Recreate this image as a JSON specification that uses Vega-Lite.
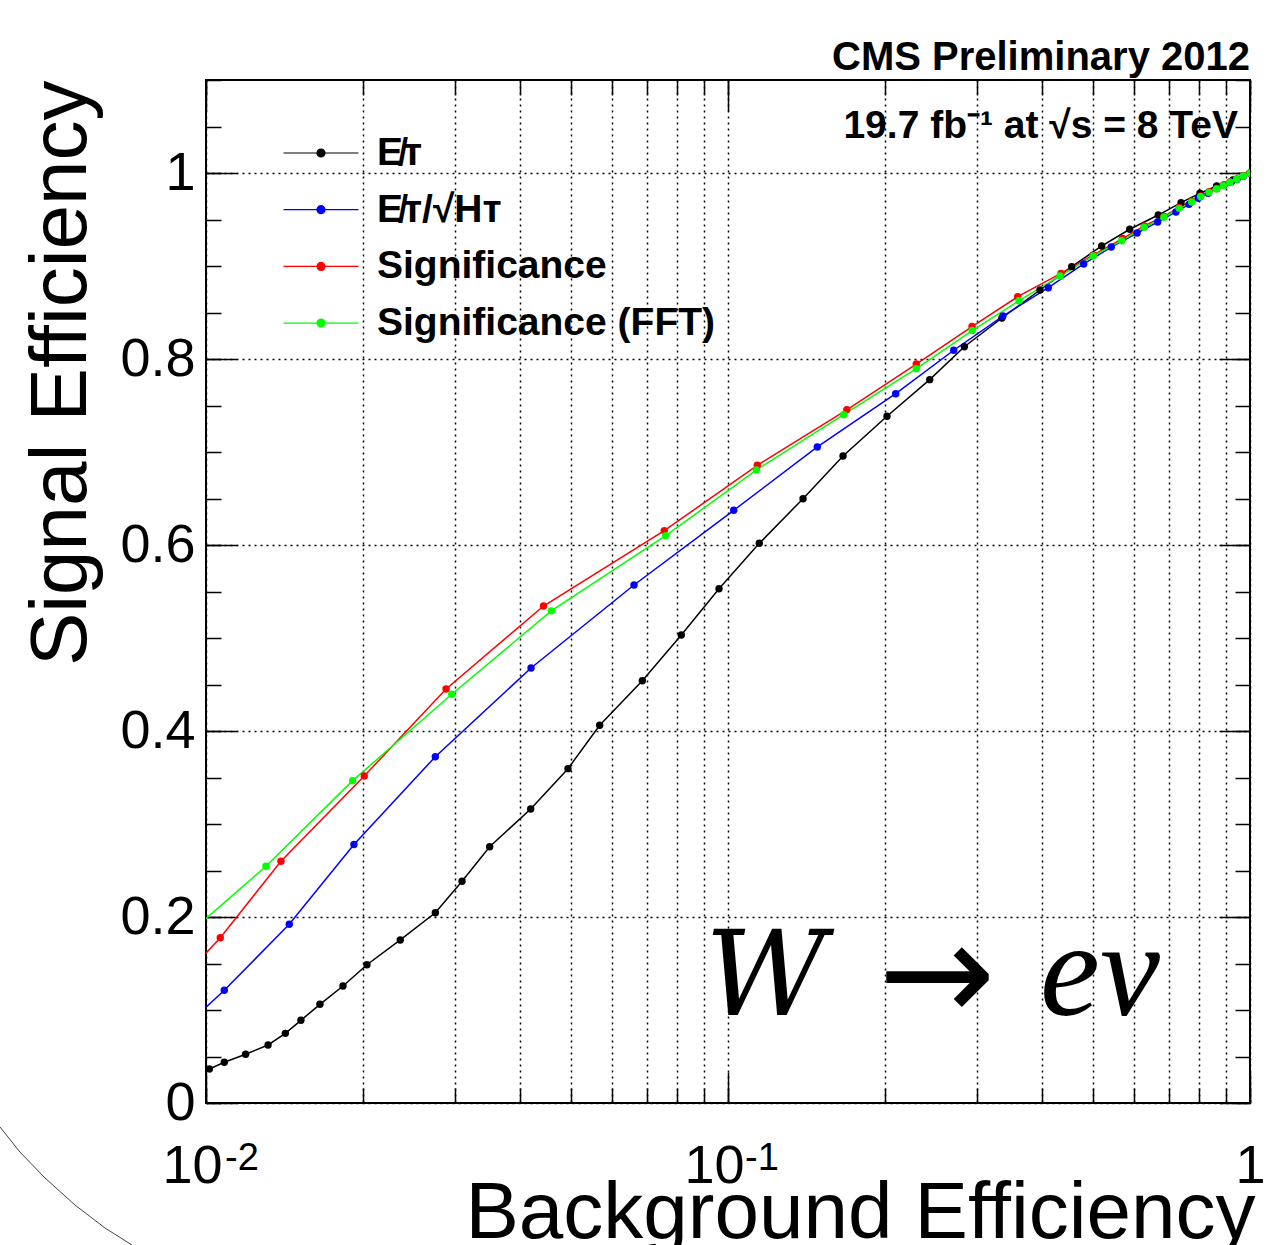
{
  "$schema": "https://vega.github.io/schema/vega-lite/v6.json",
  "width": 1044,
  "height": 1023,
  "autosize": "none",
  "padding": {"left": 206, "top": 80, "right": 18, "bottom": 142},
  "background": "white",
  "title": {"text": "CMS Preliminary 2012", "anchor": "end", "frame": "group", "font": "Liberation Sans", "fontWeight": "bold", "fontSize": 40, "baseline": "alphabetic", "offset": 7, "dy": 38, "color": "black"},
  "datasets": {
    "curves": [
      {"series": "MET", "bkg": 0.01015, "sig": 0.0366},
      {"series": "MET", "bkg": 0.01084, "sig": 0.0438},
      {"series": "MET", "bkg": 0.01191, "sig": 0.0524},
      {"series": "MET", "bkg": 0.01315, "sig": 0.0624},
      {"series": "MET", "bkg": 0.01419, "sig": 0.0749},
      {"series": "MET", "bkg": 0.0152, "sig": 0.0889},
      {"series": "MET", "bkg": 0.01653, "sig": 0.1061},
      {"series": "MET", "bkg": 0.0183, "sig": 0.1258},
      {"series": "MET", "bkg": 0.02034, "sig": 0.1487},
      {"series": "MET", "bkg": 0.02356, "sig": 0.1753},
      {"series": "MET", "bkg": 0.0275, "sig": 0.2046},
      {"series": "MET", "bkg": 0.03094, "sig": 0.2384},
      {"series": "MET", "bkg": 0.03495, "sig": 0.2756},
      {"series": "MET", "bkg": 0.04188, "sig": 0.3161},
      {"series": "MET", "bkg": 0.04937, "sig": 0.3595},
      {"series": "MET", "bkg": 0.05678, "sig": 0.4061},
      {"series": "MET", "bkg": 0.06853, "sig": 0.4541},
      {"series": "MET", "bkg": 0.08139, "sig": 0.5032},
      {"series": "MET", "bkg": 0.09611, "sig": 0.553},
      {"series": "MET", "bkg": 0.1148, "sig": 0.6018},
      {"series": "MET", "bkg": 0.13923, "sig": 0.6498},
      {"series": "MET", "bkg": 0.1661, "sig": 0.6957},
      {"series": "MET", "bkg": 0.20164, "sig": 0.7384},
      {"series": "MET", "bkg": 0.24345, "sig": 0.7778},
      {"series": "MET", "bkg": 0.28363, "sig": 0.8132},
      {"series": "MET", "bkg": 0.33479, "sig": 0.8441},
      {"series": "MET", "bkg": 0.39598, "sig": 0.8742},
      {"series": "MET", "bkg": 0.45543, "sig": 0.8993},
      {"series": "MET", "bkg": 0.51992, "sig": 0.9215},
      {"series": "MET", "bkg": 0.58832, "sig": 0.9395},
      {"series": "MET", "bkg": 0.66726, "sig": 0.9548},
      {"series": "MET", "bkg": 0.73773, "sig": 0.9681},
      {"series": "MET", "bkg": 0.80203, "sig": 0.9782},
      {"series": "MET", "bkg": 0.86336, "sig": 0.986},
      {"series": "MET", "bkg": 0.92773, "sig": 0.9925},
      {"series": "MET", "bkg": 1, "sig": 1},
      {"series": "METsqrtHT", "bkg": 0.008164, "sig": 0.057},
      {"series": "METsqrtHT", "bkg": 0.010841, "sig": 0.1212},
      {"series": "METsqrtHT", "bkg": 0.014437, "sig": 0.1922},
      {"series": "METsqrtHT", "bkg": 0.019206, "sig": 0.278},
      {"series": "METsqrtHT", "bkg": 0.027499, "sig": 0.3724},
      {"series": "METsqrtHT", "bkg": 0.041942, "sig": 0.4677},
      {"series": "METsqrtHT", "bkg": 0.066066, "sig": 0.557},
      {"series": "METsqrtHT", "bkg": 0.10255, "sig": 0.6373},
      {"series": "METsqrtHT", "bkg": 0.1483, "sig": 0.7054},
      {"series": "METsqrtHT", "bkg": 0.20953, "sig": 0.7627},
      {"series": "METsqrtHT", "bkg": 0.27066, "sig": 0.8094},
      {"series": "METsqrtHT", "bkg": 0.33627, "sig": 0.8462},
      {"series": "METsqrtHT", "bkg": 0.41075, "sig": 0.8767},
      {"series": "METsqrtHT", "bkg": 0.48021, "sig": 0.9022},
      {"series": "METsqrtHT", "bkg": 0.54238, "sig": 0.9204},
      {"series": "METsqrtHT", "bkg": 0.6078, "sig": 0.9355},
      {"series": "METsqrtHT", "bkg": 0.66548, "sig": 0.9473},
      {"series": "METsqrtHT", "bkg": 0.72135, "sig": 0.9581},
      {"series": "METsqrtHT", "bkg": 0.76394, "sig": 0.9663},
      {"series": "METsqrtHT", "bkg": 0.79593, "sig": 0.9728},
      {"series": "METsqrtHT", "bkg": 0.83185, "sig": 0.9782},
      {"series": "METsqrtHT", "bkg": 0.86336, "sig": 0.9835},
      {"series": "METsqrtHT", "bkg": 0.89171, "sig": 0.9871},
      {"series": "METsqrtHT", "bkg": 0.91967, "sig": 0.9903},
      {"series": "METsqrtHT", "bkg": 0.94432, "sig": 0.993},
      {"series": "METsqrtHT", "bkg": 0.97174, "sig": 0.9965},
      {"series": "METsqrtHT", "bkg": 1, "sig": 1},
      {"series": "Sig", "bkg": 0.008345, "sig": 0.114},
      {"series": "Sig", "bkg": 0.010651, "sig": 0.1777},
      {"series": "Sig", "bkg": 0.013918, "sig": 0.2599},
      {"series": "Sig", "bkg": 0.020099, "sig": 0.3516},
      {"series": "Sig", "bkg": 0.028833, "sig": 0.4452},
      {"series": "Sig", "bkg": 0.044318, "sig": 0.5344},
      {"series": "Sig", "bkg": 0.075502, "sig": 0.6154},
      {"series": "Sig", "bkg": 0.11379, "sig": 0.6857},
      {"series": "Sig", "bkg": 0.16891, "sig": 0.7454},
      {"series": "Sig", "bkg": 0.22944, "sig": 0.7946},
      {"series": "Sig", "bkg": 0.29342, "sig": 0.8349},
      {"series": "Sig", "bkg": 0.35891, "sig": 0.867},
      {"series": "Sig", "bkg": 0.43441, "sig": 0.8921},
      {"series": "Sig", "bkg": 0.50097, "sig": 0.912},
      {"series": "Sig", "bkg": 0.56984, "sig": 0.9295},
      {"series": "Sig", "bkg": 0.62714, "sig": 0.943},
      {"series": "Sig", "bkg": 0.68424, "sig": 0.9534},
      {"series": "Sig", "bkg": 0.73193, "sig": 0.9629},
      {"series": "Sig", "bkg": 0.77309, "sig": 0.9696},
      {"series": "Sig", "bkg": 0.80441, "sig": 0.9753},
      {"series": "Sig", "bkg": 0.83444, "sig": 0.9799},
      {"series": "Sig", "bkg": 0.86336, "sig": 0.9833},
      {"series": "Sig", "bkg": 0.88897, "sig": 0.9868},
      {"series": "Sig", "bkg": 0.91555, "sig": 0.9903},
      {"series": "Sig", "bkg": 0.94304, "sig": 0.9935},
      {"series": "Sig", "bkg": 0.97087, "sig": 0.997},
      {"series": "Sig", "bkg": 1, "sig": 1},
      {"series": "SigFFT", "bkg": 0.008917, "sig": 0.1742},
      {"series": "SigFFT", "bkg": 0.013028, "sig": 0.2545},
      {"series": "SigFFT", "bkg": 0.019096, "sig": 0.3466},
      {"series": "SigFFT", "bkg": 0.029567, "sig": 0.4395},
      {"series": "SigFFT", "bkg": 0.045868, "sig": 0.5292},
      {"series": "SigFFT", "bkg": 0.075969, "sig": 0.61},
      {"series": "SigFFT", "bkg": 0.11329, "sig": 0.6806},
      {"series": "SigFFT", "bkg": 0.16654, "sig": 0.7401},
      {"series": "SigFFT", "bkg": 0.22944, "sig": 0.7896},
      {"series": "SigFFT", "bkg": 0.29368, "sig": 0.8306},
      {"series": "SigFFT", "bkg": 0.36097, "sig": 0.8627},
      {"series": "SigFFT", "bkg": 0.4325, "sig": 0.8892},
      {"series": "SigFFT", "bkg": 0.50097, "sig": 0.9109},
      {"series": "SigFFT", "bkg": 0.56783, "sig": 0.9272},
      {"series": "SigFFT", "bkg": 0.62714, "sig": 0.9416},
      {"series": "SigFFT", "bkg": 0.68424, "sig": 0.9524},
      {"series": "SigFFT", "bkg": 0.73193, "sig": 0.962},
      {"series": "SigFFT", "bkg": 0.77309, "sig": 0.9688},
      {"series": "SigFFT", "bkg": 0.80441, "sig": 0.9745},
      {"series": "SigFFT", "bkg": 0.83444, "sig": 0.9792},
      {"series": "SigFFT", "bkg": 0.86336, "sig": 0.9828},
      {"series": "SigFFT", "bkg": 0.88897, "sig": 0.9863},
      {"series": "SigFFT", "bkg": 0.91555, "sig": 0.99},
      {"series": "SigFFT", "bkg": 0.94304, "sig": 0.9932},
      {"series": "SigFFT", "bkg": 0.97087, "sig": 0.9968},
      {"series": "SigFFT", "bkg": 1, "sig": 1}
    ],
    "arc": [
      {"bkg": 0.004031, "sig": -0.0258},
      {"bkg": 0.004401, "sig": -0.0527},
      {"bkg": 0.004915, "sig": -0.0806},
      {"bkg": 0.005611, "sig": -0.1097},
      {"bkg": 0.006405, "sig": -0.1344},
      {"bkg": 0.007214, "sig": -0.1527}
    ]
  },
  "layer": [
    {
      "data": {"name": "curves"},
      "mark": {"type": "line", "strokeWidth": 1.5, "clip": true},
      "encoding": {
        "x": {"field": "bkg", "type": "quantitative",
          "scale": {"type": "log", "domain": [0.01, 1], "nice": false},
          "axis": {"orient": "bottom", "values": [0.01, 0.1, 1], "tickSize": -31, "labelPadding": 67,
            "labelExpr": "datum.value > 0.5 ? '1' : '10'",
            "labelOffset": {"condition": {"test": "datum.value > 0.5", "value": 0}, "value": -14},
            "labelFlush": false, "labelOverlap": false, "grid": false,
            "title": "Background Efficiency", "titleX": 1049, "titleY": 134, "titleAlign": "right", "titleBaseline": "alphabetic", "titleAngle": 0}},
        "y": {"field": "sig", "type": "quantitative",
          "scale": {"domain": [0, 1.1], "nice": false, "zero": false},
          "axis": {"orient": "left", "values": [0, 0.2, 0.4, 0.6, 0.8, 1], "tickSize": -31, "labelPadding": 42, "format": "~g",
            "labelFlush": false, "labelOverlap": false, "grid": true,
            "title": "Signal Efficiency", "titleX": -121, "titleY": 0, "titleAlign": "right", "titleAngle": 270, "titleBaseline": "alphabetic"}},
        "color": {"field": "series", "type": "nominal",
          "scale": {"domain": ["MET", "METsqrtHT", "Sig", "SigFFT"], "range": ["#000000", "#0000ff", "#ff0000", "#00ff00"]},
          "legend": {"orient": "none", "legendX": 89, "legendY": 47, "title": null, "padding": 0,
            "symbolType": "M-1.5,0H1.5M0.16,0A0.16,0.16,0,1,1,-0.16,0A0.16,0.16,0,1,1,0.16,0Z",
            "symbolSize": 2500, "symbolStrokeWidth": 1.2, "rowPadding": 10.7, "labelOffset": 30, "labelLimit": 800,
            "labelFont": "Liberation Sans", "labelFontWeight": "bold", "labelFontSize": 39, "labelColor": "black",
            "labelExpr": "datum.value == 'MET' ? 'E\u0338\u1d1b' : (datum.value == 'METsqrtHT' ? 'E\u0338\u1d1b/\u221aH\u1d1b' : (datum.value == 'Sig' ? 'Significance' : 'Significance (FFT)'))",
            "encode": {"symbols": {"update": {"fill": {"scale": "color", "field": "value"}, "stroke": {"scale": "color", "field": "value"}, "opacity": {"value": 1}}}}}}
      }
    },
    {
      "data": {"name": "curves"},
      "mark": {"type": "point", "filled": true, "size": 55, "opacity": 1, "clip": true},
      "encoding": {
        "x": {"field": "bkg", "type": "quantitative",
          "axis": {"orient": "bottom", "values": [0.01, 0.02, 0.03, 0.04, 0.05, 0.06, 0.07, 0.08, 0.09, 0.1, 0.2, 0.3, 0.4, 0.5, 0.6, 0.7, 0.8, 0.9, 1], "tickSize": -15, "labels": false, "grid": true, "title": null}},
        "y": {"field": "sig", "type": "quantitative",
          "axis": {"orient": "left", "values": [0, 0.05, 0.1, 0.15, 0.2, 0.25, 0.3, 0.35, 0.4, 0.45, 0.5, 0.55, 0.6, 0.65, 0.7, 0.75, 0.8, 0.85, 0.9, 0.95, 1, 1.05, 1.1], "tickSize": -15, "labels": false, "grid": false, "title": null}},
        "color": {"field": "series", "type": "nominal", "legend": null}
      }
    },
    {
      "data": {"values": [{}]},
      "mark": {"type": "text", "text": "19.7 fb\u207b\u00b9 at \u221as = 8 TeV", "align": "right", "baseline": "alphabetic", "font": "Liberation Sans", "fontWeight": "bold", "fontSize": 39, "color": "black"},
      "encoding": {
        "x": {"datum": 0.9485, "type": "quantitative",
          "axis": {"orient": "top", "values": [0.01, 0.1, 1], "tickSize": -31, "labels": false, "grid": false, "title": null}},
        "y": {"datum": 1.0376, "type": "quantitative",
          "axis": {"orient": "right", "values": [0, 0.2, 0.4, 0.6, 0.8, 1], "tickSize": -31, "labels": false, "grid": false, "title": null}}
      }
    },
    {
      "data": {"values": [{}]},
      "mark": {"type": "text", "text": "W", "align": "left", "baseline": "alphabetic", "font": "DejaVu Serif", "fontStyle": "italic", "fontSize": 118, "color": "black"},
      "encoding": {
        "x": {"datum": 0.09036, "type": "quantitative",
          "axis": {"orient": "top", "values": [0.01, 0.02, 0.03, 0.04, 0.05, 0.06, 0.07, 0.08, 0.09, 0.1, 0.2, 0.3, 0.4, 0.5, 0.6, 0.7, 0.8, 0.9, 1], "tickSize": -15, "labels": false, "grid": false, "title": null}},
        "y": {"datum": 0.0946, "type": "quantitative",
          "axis": {"orient": "right", "values": [0, 0.05, 0.1, 0.15, 0.2, 0.25, 0.3, 0.35, 0.4, 0.45, 0.5, 0.55, 0.6, 0.65, 0.7, 0.75, 0.8, 0.85, 0.9, 0.95, 1, 1.05, 1.1], "tickSize": -15, "labels": false, "grid": false, "title": null}}
      }
    },
    {
      "data": {"values": [{}]},
      "mark": {"type": "text", "text": "\u2192", "align": "center", "baseline": "alphabetic", "font": "DejaVu Sans", "fontSize": 140, "color": "black"},
      "encoding": {
        "x": {"datum": 0.25141, "type": "quantitative", "axis": null},
        "y": {"datum": 0.0882, "type": "quantitative", "axis": null}
      }
    },
    {
      "data": {"values": [{}]},
      "mark": {"type": "text", "text": "e\u03bd", "align": "left", "baseline": "alphabetic", "font": "Liberation Serif", "fontStyle": "italic", "fontSize": 135, "color": "black"},
      "encoding": {
        "x": {"datum": 0.39598, "type": "quantitative", "axis": null},
        "y": {"datum": 0.0946, "type": "quantitative", "axis": null}
      }
    },
    {
      "data": {"values": [{}]},
      "mark": {"type": "text", "text": "-2", "align": "left", "baseline": "alphabetic", "font": "Liberation Sans", "fontSize": 38, "dx": 19, "dy": 67, "color": "black"},
      "encoding": {
        "x": {"datum": 0.01, "type": "quantitative", "axis": null},
        "y": {"datum": 0, "type": "quantitative", "axis": null}
      }
    },
    {
      "data": {"values": [{}]},
      "mark": {"type": "text", "text": "-1", "align": "left", "baseline": "alphabetic", "font": "Liberation Sans", "fontSize": 38, "dx": 17, "dy": 67, "color": "black"},
      "encoding": {
        "x": {"datum": 0.1, "type": "quantitative", "axis": null},
        "y": {"datum": 0, "type": "quantitative", "axis": null}
      }
    },
    {
      "data": {"name": "arc"},
      "mark": {"type": "line", "color": "#444444", "strokeWidth": 1, "clip": false},
      "encoding": {
        "x": {"field": "bkg", "type": "quantitative", "axis": null},
        "y": {"field": "sig", "type": "quantitative", "axis": null}
      }
    }
  ],
  "resolve": {"axis": {"x": "independent", "y": "independent"}},
  "config": {
    "font": "Liberation Sans",
    "view": {"stroke": "black", "strokeWidth": 2},
    "axis": {"domain": false, "tickColor": "black", "tickWidth": 1.5,
      "labelFont": "Liberation Sans", "labelFontSize": 54, "labelColor": "black",
      "titleFont": "Liberation Sans", "titleFontSize": 80, "titleFontWeight": "normal", "titleColor": "black",
      "gridColor": "black", "gridDash": [2, 4], "gridWidth": 1.5, "gridOpacity": 1}
  }
}
